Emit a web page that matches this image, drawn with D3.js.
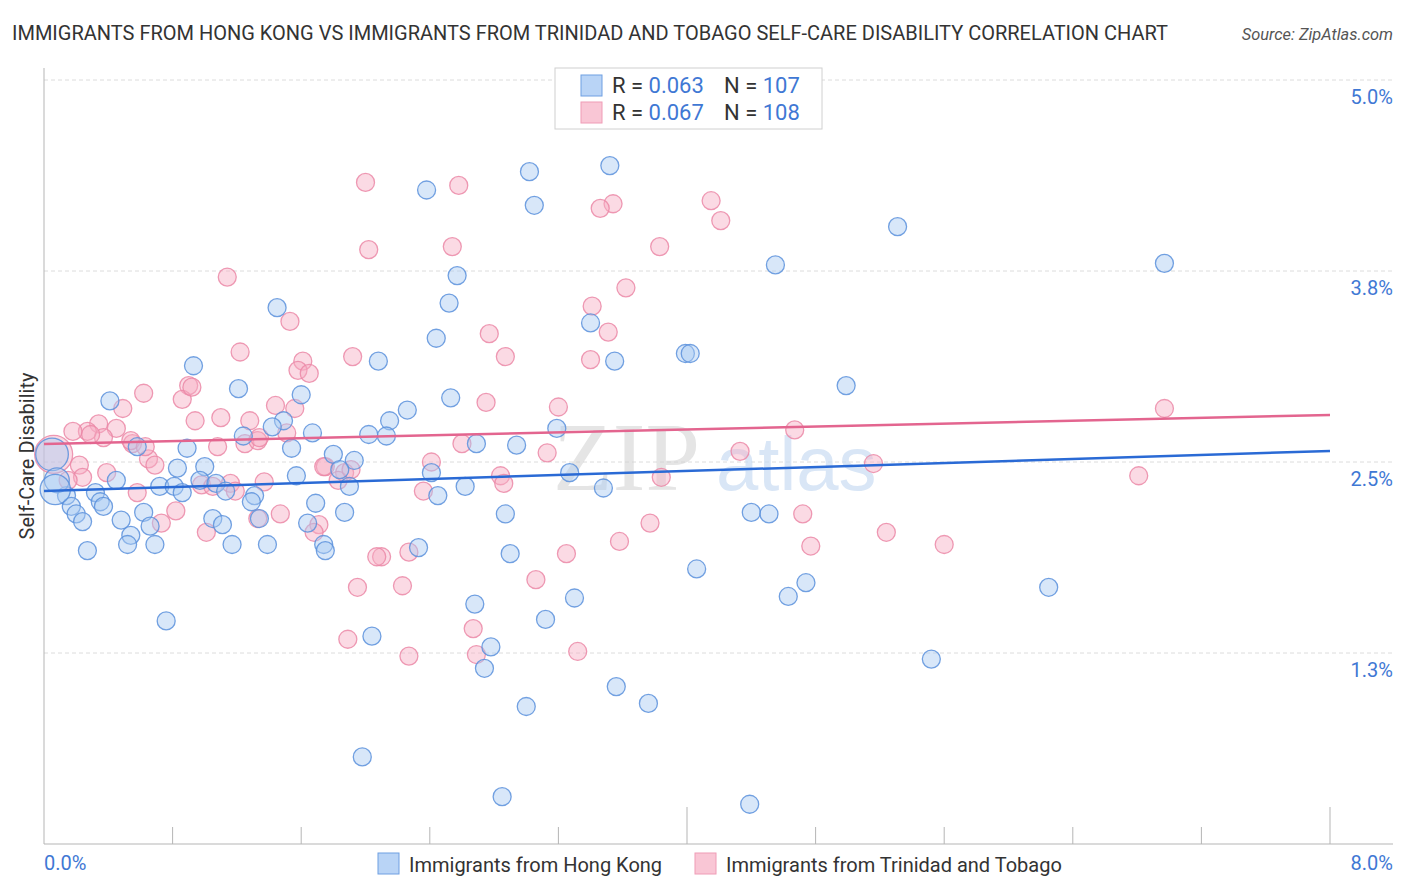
<!DOCTYPE html>
<html>
<head>
<meta charset="utf-8">
<script src="https://cdn.jsdelivr.net/npm/d3@7"></script>
<style>
  body { margin: 0; background: #fff; }
  text { font-family: Roboto, "Open Sans", sans-serif; }
</style>
</head>
<body>
<div id="chart"></div>
<script>
// scatter: self-care disability, Hong Kong vs Trinidad and Tobago immigrants
var titleText = "IMMIGRANTS FROM HONG KONG VS IMMIGRANTS FROM TRINIDAD AND TOBAGO SELF-CARE DISABILITY CORRELATION CHART";
var seriesNames = ["Immigrants from Hong Kong", "Immigrants from Trinidad and Tobago"];
var rValues = ["0.063", "0.067"];
var nValues = ["107", "108"];
var yTicks = [1.25, 2.5, 3.75, 5.0];
var yTickLabels = ["1.3%", "2.5%", "3.8%", "5.0%"];
var xTickValues = [0, 0.8, 1.6, 2.4, 3.2, 4.0, 4.8, 5.6, 6.4, 7.2, 8.0];

// [x %, y %, weight]
var hongKong = [
  [3.52,4.44,1],[3.02,4.40,1],[2.38,4.28,1],[3.05,4.18,1],[5.31,4.04,1],[4.55,3.79,1],[6.97,3.80,1],
  [2.57,3.72,1],[2.52,3.54,1],[1.45,3.51,1],[3.40,3.41,1],[2.44,3.31,1],[3.99,3.21,1],[4.02,3.21,1],
  [2.08,3.16,1],[3.55,3.16,1],[0.93,3.13,1],[4.99,3.00,1],[1.21,2.98,1],[2.53,2.92,1],[1.60,2.94,1],
  [0.41,2.90,1],[2.26,2.84,1],[2.15,2.77,1],[1.49,2.77,1],[1.42,2.73,1],[3.19,2.72,1],[1.67,2.69,1],
  [2.02,2.68,1],[2.13,2.67,1],[1.24,2.67,1],[0.58,2.60,1],[0.89,2.59,1],[2.69,2.62,1],[2.94,2.61,1],
  [1.54,2.59,1],[1.80,2.55,1],[1.93,2.51,1],[0.83,2.46,1],[1.00,2.47,1],[2.41,2.43,1],[3.27,2.43,1],
  [1.57,2.41,1],[0.45,2.38,1],[0.72,2.34,1],[0.97,2.38,1],[1.07,2.36,1],[1.84,2.45,1],[1.90,2.34,1],
  [2.62,2.34,1],[0.81,2.34,1],[1.13,2.31,1],[0.86,2.30,1],[0.32,2.30,1],[0.14,2.28,1],[3.48,2.33,1],
  [2.45,2.28,1],[1.31,2.28,1],[1.29,2.24,1],[0.35,2.24,1],[0.17,2.21,1],[1.69,2.23,1],[0.20,2.16,1],
  [0.37,2.21,1],[0.62,2.17,1],[0.24,2.11,1],[1.87,2.17,1],[2.87,2.16,1],[4.40,2.17,1],[4.51,2.16,1],
  [1.05,2.13,1],[1.34,2.13,1],[1.11,2.09,1],[0.48,2.12,1],[0.66,2.08,1],[1.64,2.10,1],[0.54,2.02,1],
  [0.52,1.96,1],[0.69,1.96,1],[1.17,1.96,1],[1.39,1.96,1],[1.74,1.96,1],[1.75,1.92,1],[2.33,1.94,1],
  [0.27,1.92,1],[2.90,1.90,1],[4.06,1.80,1],[4.74,1.71,1],[4.63,1.62,1],[6.25,1.68,1],[3.30,1.61,1],
  [2.68,1.57,1],[3.12,1.47,1],[0.76,1.46,1],[2.04,1.36,1],[2.78,1.29,1],[2.74,1.15,1],[5.52,1.21,1],
  [3.56,1.03,1],[3.76,0.92,1],[3.00,0.90,1],[1.98,0.57,1],[2.85,0.31,1],[4.39,0.26,1],
  [0.05,2.55,3],[0.08,2.38,1.8],[0.07,2.32,2.6]
];

var trinidad = [
  [2.00,4.33,1],[2.58,4.31,1],[3.54,4.19,1],[3.46,4.16,1],[4.15,4.21,1],[4.21,4.08,1],[2.02,3.89,1],
  [2.54,3.91,1],[3.83,3.91,1],[1.14,3.71,1],[3.62,3.64,1],[3.41,3.52,1],[1.53,3.42,1],[2.77,3.34,1],
  [3.51,3.35,1],[1.22,3.22,1],[1.92,3.19,1],[2.87,3.19,1],[3.40,3.17,1],[1.61,3.16,1],[1.58,3.10,1],
  [1.65,3.08,1],[0.90,3.00,1],[0.62,2.95,1],[0.86,2.91,1],[0.49,2.85,1],[0.92,2.99,1],[1.44,2.87,1],
  [2.75,2.89,1],[3.20,2.86,1],[1.10,2.79,1],[0.34,2.75,1],[1.28,2.77,1],[0.27,2.70,1],[0.18,2.70,1],
  [0.45,2.72,1],[4.67,2.71,1],[6.97,2.85,1],[0.55,2.62,1],[0.37,2.66,1],[0.29,2.68,1],[0.54,2.64,1],
  [1.08,2.60,1],[1.25,2.62,1],[1.33,2.64,1],[2.60,2.62,1],[3.13,2.56,1],[4.33,2.57,1],[0.65,2.52,1],
  [0.69,2.48,1],[0.22,2.48,1],[0.39,2.43,1],[0.24,2.40,1],[0.15,2.38,1],[1.16,2.36,1],
  [0.98,2.35,1],[2.41,2.50,1],[1.19,2.31,1],[1.75,2.47,1],[1.74,2.47,1],[1.87,2.43,1],[1.83,2.38,1],
  [2.84,2.41,1],[2.86,2.36,1],[3.84,2.40,1],[5.16,2.49,1],[6.81,2.41,1],[0.58,2.30,1],[2.36,2.31,1],
  [0.82,2.18,1],[0.73,2.10,1],[1.01,2.04,1],[1.47,2.16,1],[1.71,2.09,1],[1.68,2.04,1],[1.33,2.13,1],
  [3.77,2.10,1],[4.72,2.16,1],[5.24,2.04,1],[3.58,1.98,1],[4.77,1.95,1],[5.60,1.96,1],[2.27,1.91,1],
  [2.10,1.88,1],[2.07,1.88,1],[3.25,1.90,1],[3.06,1.73,1],[2.23,1.69,1],[1.95,1.68,1],[2.67,1.41,1],
  [1.89,1.34,1],[2.69,1.24,1],[2.27,1.23,1],[3.32,1.26,1],[1.34,2.66,1],[0.63,2.60,1],[1.05,2.34,1],
  [0.94,2.77,1],[1.56,2.85,1],[1.51,2.69,1],[1.37,2.37,1],[1.91,2.45,1],[0.06,2.55,4]
];

// trend line end values read at x = 0 and x = 8
var hongKongTrend = [2.31, 2.572];
var trinidadTrend = [2.618, 2.808];

var width = 1406, height = 892;
var svg = d3.select("#chart").append("svg")
  .attr("width", width)
  .attr("height", height);

var x = d3.scaleLinear().domain([0, 8]).range([44, 1330]);
var y = d3.scaleLinear().domain([0, 5]).range([844, 80]);
var r = d3.scaleSqrt().domain([1, 4]).range([9, 19]);

// title + source
svg.append("text")
  .attr("x", 12).attr("y", 40)
  .style("font-size", "20px").style("fill", "#333")
  .text(titleText);
svg.append("text")
  .attr("x", 1393).attr("y", 40)
  .attr("text-anchor", "end")
  .style("font-size", "16.4px").style("font-style", "italic").style("fill", "#555")
  .text("Source: ZipAtlas.com");

// grid lines
svg.append("g").selectAll("line")
  .data(yTicks)
  .enter().append("line")
    .attr("x1", 44).attr("x2", 1393)
    .attr("y1", function(d) { return y(d); })
    .attr("y2", function(d) { return y(d); })
    .style("stroke", "#dcdcdc")
    .style("stroke-dasharray", "4,3");

svg.append("g").selectAll("text")
  .data(yTicks)
  .enter().append("text")
    .attr("x", 1393)
    .attr("y", function(d) { return y(d) + 24; })
    .attr("text-anchor", "end")
    .style("font-size", "20px").style("fill", "#3f78d4")
    .text(function(d, i) { return yTickLabels[i]; });

// axes lines
svg.append("line")
  .attr("x1", 44).attr("x2", 44).attr("y1", 68).attr("y2", y(0))
  .style("stroke", "#b5b5b5");
svg.append("line")
  .attr("x1", 44).attr("x2", 1393).attr("y1", y(0)).attr("y2", y(0))
  .style("stroke", "#b5b5b5");
svg.append("g").selectAll("line")
  .data(xTickValues.slice(1))
  .enter().append("line")
    .attr("x1", function(d) { return x(d); })
    .attr("x2", function(d) { return x(d); })
    .attr("y1", function(d) { return (d === 4 || d === 8) ? y(0) - 37 : y(0) - 17; })
    .attr("y2", y(0))
    .style("stroke", "#b5b5b5");

svg.append("text")
  .attr("x", 44).attr("y", 870)
  .style("font-size", "20px").style("fill", "#3f78d4")
  .text("0.0%");
svg.append("text")
  .attr("x", 1393).attr("y", 870)
  .attr("text-anchor", "end")
  .style("font-size", "20px").style("fill", "#3f78d4")
  .text("8.0%");

// y label
svg.append("text")
  .attr("transform", "translate(34," + 456 + ") rotate(-90)")
  .attr("text-anchor", "middle")
  .style("font-size", "20px").style("fill", "#333")
  .text("Self-Care Disability");

// watermark
svg.append("text")
  .attr("x", 553).attr("y", 490)
  .style("font-family", "'Liberation Serif', serif")
  .style("font-size", "98px").style("fill", "#d4d4d4").style("opacity", 0.6)
  .text("ZIP");
svg.append("text")
  .attr("x", 716).attr("y", 490)
  .style("font-family", "'Liberation Sans', sans-serif")
  .style("font-size", "76px").style("fill", "#c9dcf3").style("opacity", 0.7)
  .text("atlas");

// dots
function drawDots(data, fill, stroke) {
  svg.append("g").selectAll("circle")
    .data(data)
    .enter().append("circle")
      .attr("cx", function(d) { return x(d[0]); })
      .attr("cy", function(d) { return y(d[1]); })
      .attr("r", function(d) { return r(d[2]); })
      .style("fill", fill).style("fill-opacity", 0.45)
      .style("stroke", stroke).style("stroke-width", 1.3).style("stroke-opacity", 0.85);
}
drawDots(trinidad, "#f6aec4", "#eb88a7");
drawDots(hongKong, "#a9c9f2", "#5b91dc");

// trend lines
var line = d3.line()
  .x(function(d) { return x(d[0]); })
  .y(function(d) { return y(d[1]); });
svg.append("path")
  .datum([[0, hongKongTrend[0]], [8, hongKongTrend[1]]])
  .attr("d", line)
  .style("fill", "none").style("stroke", "#2a6ad5").style("stroke-width", 2.5);
svg.append("path")
  .datum([[0, trinidadTrend[0]], [8, trinidadTrend[1]]])
  .attr("d", line)
  .style("fill", "none").style("stroke", "#e3658f").style("stroke-width", 2.5);

// top legend
var legend = svg.append("g");
legend.append("rect")
  .attr("x", 555).attr("y", 68).attr("width", 267).attr("height", 61)
  .style("fill", "#fff").style("stroke", "#d0d0d0");
var legColors = [["#b9d4f6", "#6f9fe2"], ["#f9c6d5", "#ef9cb6"]];
[0, 1].forEach(function(i) {
  var ty = 75 + i * 27;
  legend.append("rect")
    .attr("x", 581).attr("y", ty).attr("width", 21).attr("height", 21)
    .style("fill", legColors[i][0]).style("stroke", legColors[i][1]);
  var t = legend.append("text")
    .attr("x", 612).attr("y", ty + 18)
    .style("font-size", "22px");
  t.append("tspan").style("fill", "#333").text("R = ");
  t.append("tspan").style("fill", "#3f78d4").text(rValues[i]);
  var t2 = legend.append("text")
    .attr("x", 724).attr("y", ty + 18)
    .style("font-size", "22px");
  t2.append("tspan").style("fill", "#333").text("N = ");
  t2.append("tspan").style("fill", "#3f78d4").text(nValues[i]);
});

// bottom legend
var legX = [378, 695];
seriesNames.forEach(function(name, i) {
  svg.append("rect")
    .attr("x", legX[i]).attr("y", 853).attr("width", 21).attr("height", 21)
    .style("fill", legColors[i][0]).style("stroke", legColors[i][1]);
  svg.append("text")
    .attr("x", legX[i] + 31).attr("y", 872)
    .style("font-size", "20px").style("fill", "#333")
    .text(name);
});
</script>
</body>
</html>
